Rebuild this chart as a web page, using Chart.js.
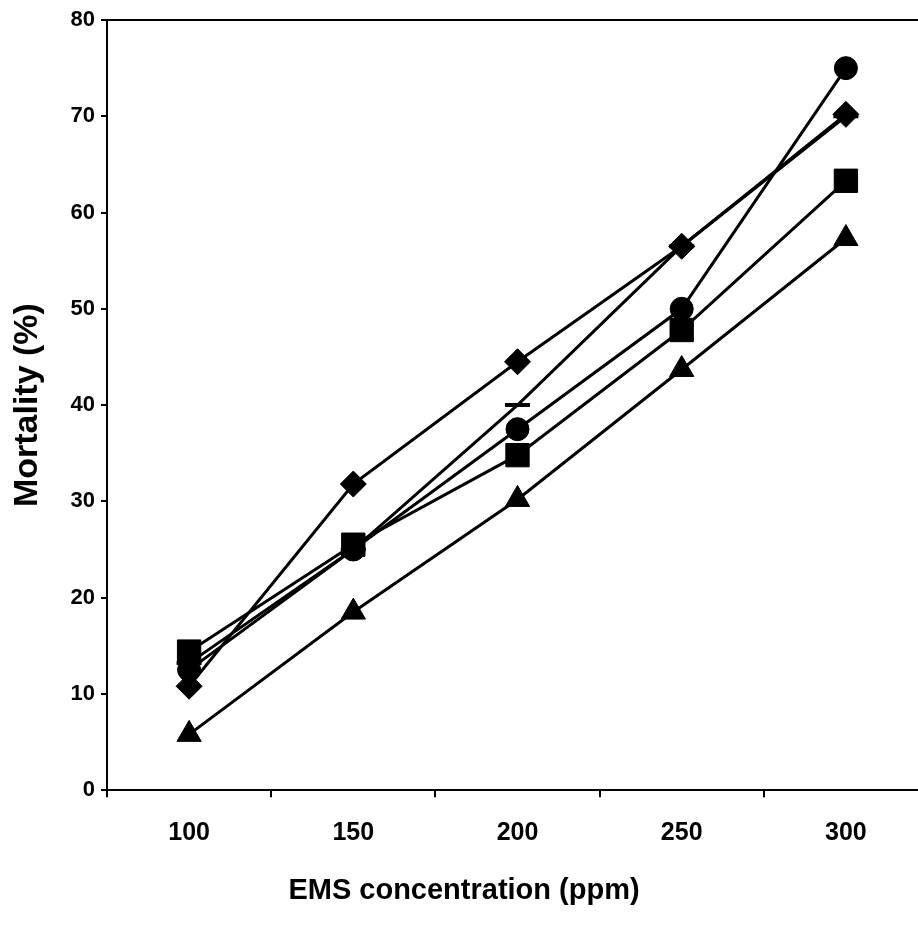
<!DOCTYPE html>
<html>
<head>
<meta charset="utf-8">
<script src="https://cdn.jsdelivr.net/npm/chart.js@4/dist/chart.umd.min.js"></script>
<style>
  html, body { margin: 0; padding: 0; background: #fff; overflow: hidden; }
  #wrap { width: 918px; height: 939px; overflow: hidden; }
</style>
</head>
<body>
<div id="wrap"><canvas id="c" width="930" height="939"></canvas></div>
<script>
// Data
const categories = ['100', '150', '200', '250', '300'];
const seriesDiamond  = [10.8, 31.8, 44.5, 56.5, 70.2];
const seriesCircle   = [12.5, 25.0, 37.5, 50.0, 75.0];
const seriesSquare   = [14.4, 25.5, 34.8, 47.8, 63.3];
const seriesTriangle = [5.8, 18.5, 30.2, 43.7, 57.3];
const seriesDash     = [13.2, 25.0, 40.0, 56.5, 70.0];
const yTicks = [0, 10, 20, 30, 40, 50, 60, 70, 80];
const xTitle = 'EMS concentration (ppm)';
const yTitle = 'Mortality (%)';

const FONT = '"Liberation Sans", Arial, sans-serif';

function ds(label, data, style, radius, bw) {
  return {
    label, data,
    borderColor: '#000', backgroundColor: '#000', borderWidth: 3,
    pointStyle: style, pointRadius: radius, pointHoverRadius: radius,
    pointBackgroundColor: '#000', pointBorderColor: '#000', pointBorderWidth: bw,
    tension: 0, fill: false
  };
}

const topBorder = {
  id: 'topBorder',
  beforeDatasetsDraw(chart) {
    const { ctx, chartArea } = chart;
    ctx.save();
    ctx.strokeStyle = '#000';
    ctx.lineWidth = 2;
    ctx.beginPath();
    ctx.moveTo(chartArea.left, chartArea.top);
    ctx.lineTo(chartArea.right, chartArea.top);
    ctx.stroke();
    ctx.restore();
  }
};

new Chart(document.getElementById('c'), {
  type: 'line',
  data: {
    labels: categories,
    datasets: [
      ds('Series 5', seriesDash, 'line', 12.5, 4),
      ds('Series 4', seriesTriangle, 'triangle', 14, 1),
      ds('Series 3', seriesSquare, 'rect', 16.5, 1),
      ds('Series 2', seriesCircle, 'circle', 11.5, 1),
      ds('Series 1', seriesDiamond, 'rectRot', 13, 1)
    ]
  },
  options: {
    responsive: false,
    animation: false,
    devicePixelRatio: 1,
    layout: { autoPadding: false, padding: { top: 20, left: 0, right: 2, bottom: 0 } },
    plugins: {
      legend: { display: false },
      tooltip: { enabled: false },
      title: {
        display: true, position: 'bottom', text: xTitle, color: '#000',
        font: { family: FONT, size: 29, weight: 'bold' },
        padding: { top: 3, bottom: 31 }
      }
    },
    scales: {
      x: {
        type: 'category',
        offset: true,
        grid: { display: true, offset: true, drawOnChartArea: false, drawTicks: true, tickLength: 7, color: '#000', lineWidth: 2 },
        border: { display: true, color: '#000', width: 2 },
        ticks: { color: '#000', padding: 21, font: { family: FONT, size: 25, weight: 'bold' } },
        afterFit(scale) { scale.height = 80; }
      },
      y: {
        min: 0, max: 80,
        afterBuildTicks(scale) { scale.ticks = yTicks.map(v => ({ value: v })); },
        grid: { display: true, drawOnChartArea: false, drawTicks: true, tickLength: 6, color: '#000', lineWidth: 2 },
        border: { display: true, color: '#000', width: 2 },
        ticks: { color: '#000', padding: 6, font: { family: FONT, size: 22, weight: 'bold' } },
        title: {
          display: true, text: yTitle, color: '#000',
          font: { family: FONT, size: 34, weight: 'bold' },
          padding: { top: 7, bottom: 0 }
        },
        afterFit(scale) { scale.width = 107; }
      }
    }
  },
  plugins: [topBorder]
});
</script>
</body>
</html>
